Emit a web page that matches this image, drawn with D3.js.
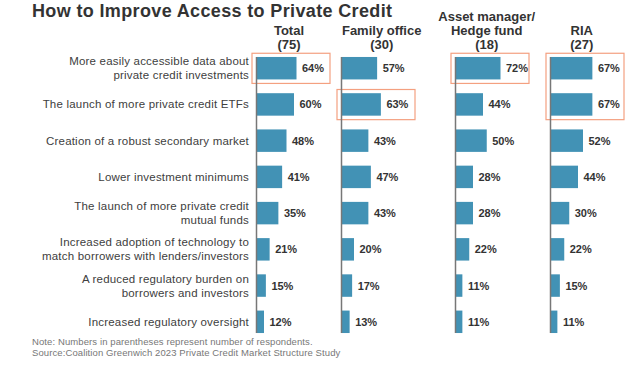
<!DOCTYPE html>
<html><head><meta charset="utf-8">
<script src="https://cdn.jsdelivr.net/npm/d3@7"></script>
<style>body{margin:0;background:#fff}svg{display:block}</style>
</head><body>
<script>
const categories = [
  ["More easily accessible data about","private credit investments"],
  ["The launch of more private credit ETFs"],
  ["Creation of a robust secondary market"],
  ["Lower investment minimums"],
  ["The launch of more private credit","mutual funds"],
  ["Increased adoption of technology to","match borrowers with lenders/investors"],
  ["A reduced regulatory burden on","borrowers and investors"],
  ["Increased regulatory oversight"]
];
const segments = [["Total","(75)"],["Family office","(30)"],["Asset manager/","Hedge fund","(18)"],["RIA","(27)"]];
const total = [64,60,48,41,35,21,15,12];
const familyOffice = [57,63,43,47,43,20,17,13];
const assetManager = [72,44,50,28,28,22,11,11];
const ria = [67,67,52,44,30,22,15,11];
const highlights = [[0,[0]],[1,[1]],[2,[0]],[3,[0,1]]];
const title = "How to Improve Access to Private Credit";
const notes = ["Note: Numbers in parentheses represent number of respondents.",
  "Source:Coalition Greenwich 2023 Private Credit Market Structure Study"];

const series = [total, familyOffice, assetManager, ria];
const W = 638, H = 384;
const svg = d3.select("body").append("svg").attr("width", W).attr("height", H);
const font = "'Liberation Sans', Arial, sans-serif";

svg.append("text").attr("x", 32).attr("y", 16.5).attr("font-family", font)
  .attr("font-size", 18).attr("font-weight", "bold").attr("fill", "#333")
  .attr("textLength", 360).attr("lengthAdjust", "spacing").text(title);

const idx = d3.range(categories.length);
const y = d3.scaleBand().domain(idx).range([43.2, 346.8]).padding(0.38);
const x = d3.scaleLinear().domain([0, 100]).range([0, 62.5]);
const axisX = [256.5, 341.5, 455.5, 550.5];
const headX = [289, 381.7, 486.7, 581.7];

// category labels
const lab = svg.append("g").attr("font-family", font).attr("font-size", 11.5)
  .attr("letter-spacing", 0.2).attr("fill", "#404040").attr("text-anchor", "end");
categories.forEach((lines, i) => {
  const c = y(i) + y.bandwidth() / 2;
  const n = lines.length;
  lines.forEach((t, j) => {
    lab.append("text").attr("x", 249).attr("y", c + 4 + (j - (n - 1) / 2) * 14).text(t);
  });
});

// highlight boxes
highlights.forEach(([p, rows]) => {
  const r0 = d3.min(rows), r1 = d3.max(rows);
  svg.append("rect").attr("x", axisX[p] - 4.5).attr("y", y(r0) - 3.7)
    .attr("width", 78).attr("height", y(r1) + y.bandwidth() + 4 - (y(r0) - 3.7))
    .attr("fill", "none").attr("stroke", "#f4a080").attr("stroke-width", 1.2);
});

series.forEach((vals, p) => {
  const g = svg.append("g").attr("transform", `translate(${axisX[p]},0)`);
  g.selectAll("rect.bar").data(vals).join("rect").attr("class", "bar")
    .attr("x", 0).attr("y", (d, i) => y(i)).attr("width", d => x(d)).attr("height", y.bandwidth())
    .attr("fill", "#4292b5");
  g.append("line").attr("x1", 0).attr("x2", 0).attr("y1", y(0)).attr("y2", y(vals.length - 1) + y.bandwidth())
    .attr("stroke", "#777").attr("stroke-width", 1.5);
  g.selectAll("text.val").data(vals).join("text").attr("class", "val")
    .attr("x", d => x(d) + 5.5).attr("y", (d, i) => y(i) + y.bandwidth() / 2 + 4)
    .attr("font-family", font).attr("font-size", 11).attr("font-weight", "bold").attr("fill", "#333")
    .text(d => d + "%");
  const lines = segments[p];
  lines.forEach((t, j) => {
    svg.append("text").attr("x", headX[p]).attr("y", 49 - (lines.length - 1 - j) * 14)
      .attr("text-anchor", "middle").attr("font-family", font).attr("font-size", 13)
      .attr("font-weight", "bold").attr("fill", "#333").text(t);
  });
});

notes.forEach((t, j) => {
  svg.append("text").attr("x", 32).attr("y", 345 + j * 11).attr("font-family", font)
    .attr("font-size", 9.5).attr("letter-spacing", 0.1).attr("fill", "#777").text(t);
});
</script>
</body></html>
